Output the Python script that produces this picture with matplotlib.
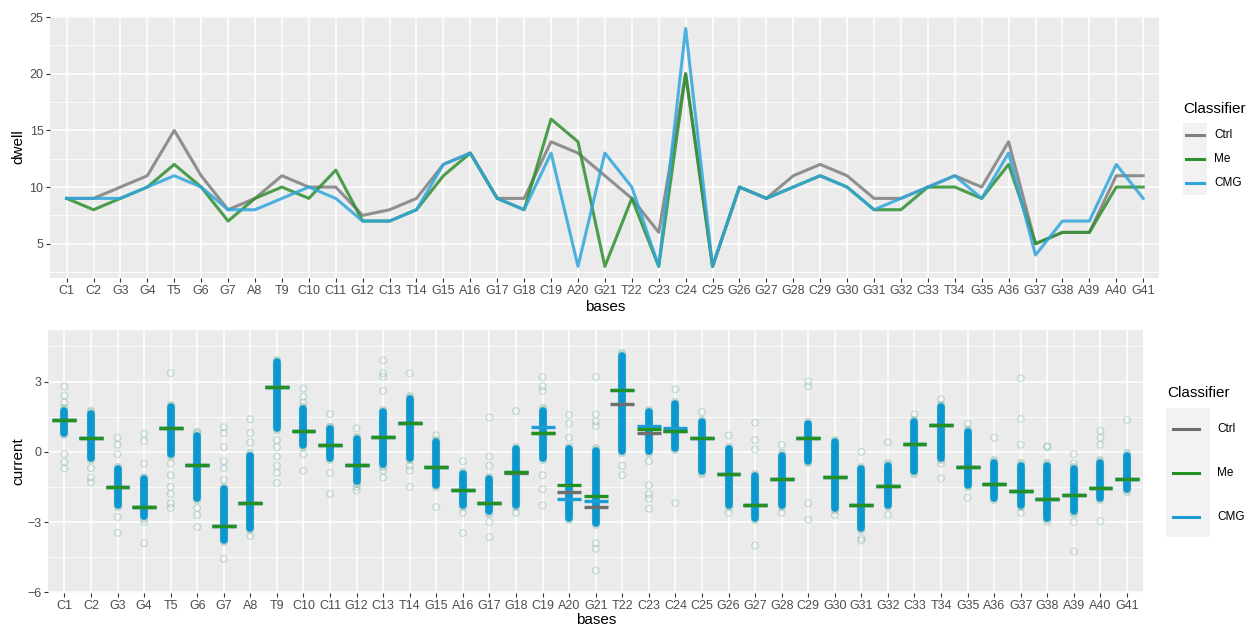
import matplotlib
matplotlib.use("Agg")
import matplotlib.pyplot as plt
from matplotlib.lines import Line2D
from matplotlib.patches import Rectangle
from matplotlib.ticker import MultipleLocator
import numpy as np

plt.rcParams['font.family'] = ['Liberation Sans', 'DejaVu Sans']

bases = ["C1", "C2", "G3", "G4", "T5", "G6", "G7", "A8", "T9", "C10", "C11", "G12", "C13", "T14",
         "G15", "A16", "G17", "G18", "C19", "A20", "G21", "T22", "C23", "C24", "C25", "G26", "G27",
         "G28", "C29", "G30", "G31", "G32", "C33", "T34", "G35", "A36", "G37", "G38", "A39", "A40", "G41"]

# dwell per base
ctrl_dwell = [9, 9, 10, 11, 15, 11, 8, 9, 11, 10, 10, 7.5, 8, 9, 12, 13, 9, 9, 14, 13, 11, 9, 6, 20, 3,
              10, 9, 11, 12, 11, 9, 9, 10, 11, 10, 14, 5, 6, 6, 11, 11]
me_dwell = [9, 8, 9, 10, 12, 10, 7, 9, 10, 9, 11.5, 7, 7, 8, 11, 13, 9, 8, 16, 14, 3, 9, 3, 20, 3,
            10, 9, 10, 11, 10, 8, 8, 10, 10, 9, 12, 5, 6, 6, 10, 10]
cmg_dwell = [9, 9, 9, 10, 11, 10, 8, 8, 9, 10, 9, 7, 7, 8, 12, 13, 9, 8, 13, 3, 13, 10, 3, 24, 3,
             10, 9, 10, 11, 10, 8, 9, 10, 11, 9, 13, 4, 7, 7, 12, 9]

# mean current per base
ctrl_current = [1.36, 0.57, -1.5, -2.36, 1.0, -0.58, -3.18, -2.17, 2.76, 0.87, 0.27, -0.56, 0.63, 1.21,
                -0.64, -1.64, -2.17, -0.9, 0.79, -1.7, -2.37, 2.06, 0.81, 0.88, 0.57, -0.96, -2.26,
                -1.16, 0.59, -1.07, -2.27, -1.47, 0.32, 1.14, -0.67, -1.36, -1.66, -2.0, -1.84, -1.54, -1.18]
me_current = [1.36, 0.57, -1.5, -2.36, 1.0, -0.58, -3.18, -2.17, 2.76, 0.87, 0.27, -0.56, 0.63, 1.21,
              -0.64, -1.64, -2.17, -0.86, 0.79, -1.43, -1.89, 2.64, 0.96, 0.9, 0.57, -0.96, -2.26,
              -1.16, 0.59, -1.07, -2.27, -1.47, 0.32, 1.14, -0.67, -1.36, -1.66, -2.0, -1.84, -1.54, -1.18]
cmg_current = [1.36, 0.57, -1.5, -2.36, 1.0, -0.58, -3.18, -2.17, 2.76, 0.87, 0.27, -0.56, 0.63, 1.21,
               -0.64, -1.64, -2.17, -0.86, 1.07, -2.03, -2.11, 2.64, 1.1, 1.03, 0.57, -0.96, -2.26,
               -1.16, 0.59, -1.07, -2.27, -1.47, 0.32, 1.14, -0.67, -1.36, -1.66, -2.0, -1.84, -1.54, -1.18]

# dense range of the current readings per base
core_lo = [0.72, -0.36, -2.36, -2.86, -0.2, -2.07, -3.86, -3.36, 0.93, 0.21, -0.36, -1.36, -0.64, -0.36,
           -1.5, -2.36, -2.64, -2.36, -0.36, -2.93, -3.14, -0.07, -0.07, 0.07, -0.93, -2.36, -2.93,
           -2.36, -0.5, -2.5, -3.36, -2.36, -0.93, -0.36, -1.5, -2.07, -2.36, -2.93, -2.64, -2.07, -1.71]
core_hi = [1.86, 1.71, -0.64, -1.07, 2.0, 0.79, -1.5, -0.07, 3.93, 1.93, 1.07, 0.64, 1.79, 2.36,
           0.5, -0.86, -1.07, 0.21, 1.86, 0.21, 0.14, 4.21, 1.79, 2.14, 1.36, 0.21, -0.93,
           -0.07, 1.29, 0.5, -0.64, -0.5, 1.36, 2.0, 0.93, -0.36, -0.5, -0.5, -0.64, -0.36, -0.07]

# sparse readings outside the dense range
outliers = [
    [2.79, 2.4, 2.1, -0.1, -0.45, -0.71],
    [1.75, -0.7, -1.1, -1.31],
    [0.6, 0.3, -0.1, -2.79, -3.46],
    [0.76, 0.45, -0.5, -3.0, -3.9],
    [3.36, -0.5, -1.0, -1.5, -1.8, -2.2, -2.4],
    [0.85, -2.4, -2.7, -3.21],
    [1.05, 0.8, 0.2, -0.4, -0.7, -1.2, -4.57],
    [1.39, 0.8, 0.4, -0.2, -3.6],
    [0.5, 0.2, -0.2, -0.6, -0.9, -1.33],
    [2.7, 2.35, 2.1, -0.1, -0.81],
    [1.61, 1.05, -0.9, -1.8],
    [1.0, -1.5, -1.65],
    [3.9, 3.35, 3.2, 2.6, -0.8, -1.1],
    [3.35, -0.6, -0.8, -1.5],
    [0.7, -2.36],
    [-0.4, -2.6, -3.47],
    [1.46, -0.2, -0.6, -3.0, -3.64],
    [1.74, -2.6],
    [3.19, 2.8, 2.6, -1.0, -1.6, -2.29],
    [1.57, 1.2, 0.6],
    [3.2, 1.6, 1.3, 1.1, -3.9, -4.14, -5.07],
    [-0.6, -1.0],
    [-0.4, -1.43, -1.8, -2.0, -2.43],
    [2.67, 1.9, -2.19],
    [1.7],
    [0.7, -2.6],
    [1.24, 0.5, 0.1, -4.0],
    [0.3, -2.6],
    [3.0, 2.8, -2.2, -2.9],
    [-2.7],
    [0.0, -3.7, -3.79],
    [0.4, -2.7],
    [1.6],
    [2.24, -0.5, -1.14],
    [1.2, -1.96],
    [0.6],
    [3.13, 1.4, 0.3, -2.6],
    [0.24, 0.2, -3.0],
    [-0.1, -0.5, -3.0, -4.26],
    [0.89, 0.6, 0.3, -2.96],
    [1.36],
]

classifiers = ["Ctrl", "Me", "CMG"]
line_cols = {"Ctrl": "#7f7f7f", "Me": "#2f8f2f", "CMG": "#2fa6dc"}
bar_cols = {"Ctrl": "#6e6e6e", "Me": "#229122", "CMG": "#1a9dd6"}

W, H = 1249, 629
fig = plt.figure(figsize=(W / 100, H / 100), dpi=100)


def px(x, y):
    return x / W, 1 - y / H


def style_axes(ax):
    ax.set_facecolor("#EBEBEB")
    for s in ax.spines.values():
        s.set_visible(False)
    ax.grid(which="major", color="white", linewidth=1.1)
    ax.grid(which="minor", axis="y", color="white", linewidth=0.55)
    ax.set_axisbelow(True)
    ax.tick_params(which="major", length=3, width=0.8, color="#333333", labelcolor="#4d4d4d",
                   labelsize=9, pad=2)
    ax.tick_params(which="minor", length=0)


x = np.arange(1, len(bases) + 1)

# top panel: dwell
ax1 = fig.add_axes([0.0404, 0.5576, 0.8878, 0.417])
style_axes(ax1)
ax1.plot(x, ctrl_dwell, color=line_cols["Ctrl"], lw=2.2, alpha=0.85)
ax1.plot(x, me_dwell, color=line_cols["Me"], lw=2.2, alpha=0.85)
ax1.plot(x, cmg_dwell, color=line_cols["CMG"], lw=2.2, alpha=0.85)
ax1.set_xlim(0.4, len(bases) + 0.6)
ax1.set_ylim(1.95, 25.1)
ax1.set_xticks(x)
ax1.set_xticklabels(bases)
ax1.yaxis.set_major_locator(MultipleLocator(5))
ax1.yaxis.set_minor_locator(MultipleLocator(2.5))
fig.text(*px(605, 307), "bases", ha="center", va="center", fontsize=11)
fig.text(*px(18, 147), "dwell", ha="center", va="center", rotation=90, fontsize=11)

# bottom panel: current
ax2 = fig.add_axes([0.0388, 0.0572, 0.8763, 0.4182])
style_axes(ax2)
for i in range(len(bases)):
    pts = outliers[i]
    ax2.scatter([x[i]] * len(pts), pts, s=24, facecolors="none", edgecolors="#4aa6cc",
                linewidths=0.8, alpha=0.2, zorder=2)
    ax2.scatter([x[i]] * len(pts), pts, s=24, facecolors="none", edgecolors="#3f9a3f",
                linewidths=0.8, alpha=0.12, zorder=2)
ax2.vlines(x, core_lo, core_hi, color="#4c9c80", lw=6.0, alpha=0.3, zorder=3, capstyle="round")
ax2.vlines(x, np.array(core_lo) + 0.1, np.array(core_hi) - 0.1, color="#0b98d0", lw=5.5, zorder=3,
           capstyle="round")
for name, vals in [("Ctrl", ctrl_current), ("CMG", cmg_current), ("Me", me_current)]:
    ax2.hlines(vals, x - 0.45, x + 0.45, color=bar_cols[name], lw=2.4, zorder=4)
ax2.set_xlim(0.4, len(bases) + 0.6)
ax2.set_ylim(-6.03, 5.2)
ax2.set_xticks(x)
ax2.set_xticklabels(bases)
ax2.yaxis.set_major_locator(MultipleLocator(3))
ax2.yaxis.set_minor_locator(MultipleLocator(1.5))
fig.text(*px(596, 620), "bases", ha="center", va="center", fontsize=11)
fig.text(*px(18, 461), "current", ha="center", va="center", rotation=90, fontsize=11)


def legend(tx, ty, box, keys_y, line_x, label_x, cols, lw):
    fig.text(*px(tx, ty), "Classifier", ha="left", va="center", fontsize=11)
    x0, y0, x1, y1 = box
    bx, by = px(x0, y1)
    fig.patches.append(Rectangle((bx, by), (x1 - x0) / W, (y1 - y0) / H, transform=fig.transFigure,
                                 facecolor="#F2F2F2", edgecolor="none"))
    for name, ky in zip(classifiers, keys_y):
        fx0, fy = px(line_x[0], ky)
        fx1, _ = px(line_x[1], ky)
        fig.lines.append(Line2D([fx0, fx1], [fy, fy], transform=fig.transFigure, color=cols[name], lw=lw))
        fig.text(*px(label_x, ky), name, ha="left", va="center", fontsize=8.5)


legend(1183, 109, (1183, 123, 1207, 195), [135, 159, 183], (1186, 1204), 1214, line_cols, 2.2)
legend(1167, 393, (1166, 408, 1210, 537), [429, 473, 517], (1173, 1199), 1217, bar_cols, 2.2)

fig.savefig("out.png", dpi=100)
